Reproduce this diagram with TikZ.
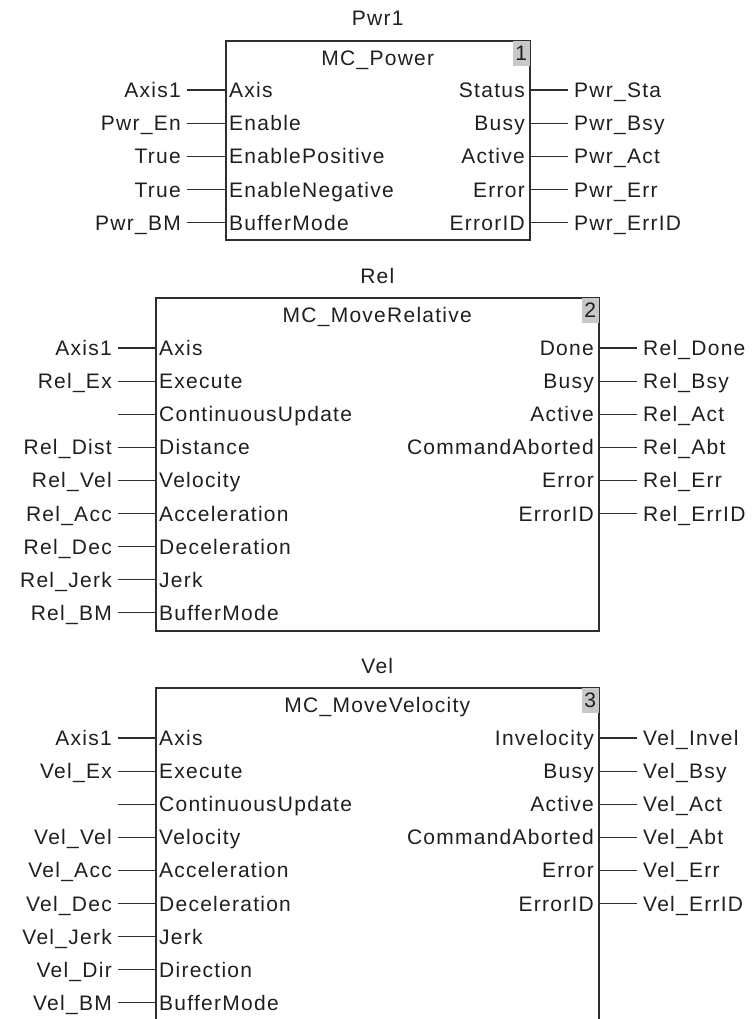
\documentclass[tikz,border=0pt]{standalone}
\usepackage{fontspec}
\setmainfont{Liberation Sans}[LetterSpace=6]
\usetikzlibrary{positioning}
\definecolor{fbline}{RGB}{50,44,44}
\definecolor{fbtext}{RGB}{35,30,30}
\definecolor{fbno}{RGB}{200,200,200}

\begin{document}
\begin{tikzpicture}[x=1pt,y=-1pt,font=\fontsize{21}{25}\selectfont,text=fbtext,
  fb/.style={draw=fbline,line width=1.6pt,anchor=north west,inner sep=0pt},
  fbno/.style={fill=fbno,anchor=north east,inner sep=0pt,minimum width=17pt,minimum height=25pt,xshift=-0.8pt,yshift=-0.8pt},
  pin/.style={inner xsep=4pt,inner ysep=0pt,text height=15pt,text depth=0pt},
  var/.style={pin,inner xsep=6pt},
  wire/.style={draw=fbline,line width=1.2pt}]
  \useasboundingbox (0,0) rectangle (752,1019);
  \clip (0,0) rectangle (752,1019);

  \node[fb,minimum width=304pt,minimum height=199pt] (pwr) at (225,40) {};
  \node[fbno] (pwrno) at (pwr.north east) {1};
  \node[pin,above=14pt of pwr] (pwrinst) {Pwr1};
  \node[pin,below=10pt of pwr.north] (pwrtitle) {MC\_Power};
  \foreach \pin/\var [count=\i] in {Axis/Axis1,Enable/Pwr\_En,EnablePositive/True,
      EnableNegative/True,BufferMode/Pwr\_BM}{
    \node[pin,anchor=west] (pwri\i) at (225,{90+(\i-1)*33.2}) {\pin};
    \node[var,left=38pt of pwri\i] (pwrv\i) {\var};
    \draw[wire] (pwrv\i.east) -- (pwri\i.west);
  }
  \foreach \pin/\var [count=\i] in {Status/Pwr\_Sta,Busy/Pwr\_Bsy,Active/Pwr\_Act,
      Error/Pwr\_Err,ErrorID/Pwr\_ErrID}{
    \node[pin,anchor=east] (pwro\i) at (529,{90+(\i-1)*33.2}) {\pin};
    \node[var,right=39pt of pwro\i] (pwrq\i) {\var};
    \draw[wire] (pwro\i.east) -- (pwrq\i.west);
  }

  \node[fb,minimum width=443pt,minimum height=333pt] (rel) at (155,297) {};
  \node[fbno] (relno) at (rel.north east) {2};
  \node[pin,above=13pt of rel] (relinst) {Rel};
  \node[pin,below=10pt of rel.north] (reltitle) {MC\_MoveRelative};
  \foreach \pin/\var [count=\i] in {Axis/Axis1,Execute/Rel\_Ex,ContinuousUpdate/{},
      Distance/Rel\_Dist,Velocity/Rel\_Vel,Acceleration/Rel\_Acc,Deceleration/Rel\_Dec,
      Jerk/Rel\_Jerk,BufferMode/Rel\_BM}{
    \node[pin,anchor=west] (reli\i) at (155,{348+(\i-1)*33.1}) {\pin};
    \node[var,left=37pt of reli\i] (relv\i) {\var};
    \draw[wire] (relv\i.east) -- (reli\i.west);
  }
  \foreach \pin/\var [count=\i] in {Done/Rel\_Done,Busy/Rel\_Bsy,Active/Rel\_Act,
      CommandAborted/Rel\_Abt,Error/Rel\_Err,ErrorID/Rel\_ErrID}{
    \node[pin,anchor=east] (relo\i) at (598,{348+(\i-1)*33.1}) {\pin};
    \node[var,right=39pt of relo\i] (relq\i) {\var};
    \draw[wire] (relo\i.east) -- (relq\i.west);
  }

  \node[fb,minimum width=443pt,minimum height=400pt] (vel) at (155,687) {};
  \node[fbno] (velno) at (vel.north east) {3};
  \node[pin,above=13pt of vel] (velinst) {Vel};
  \node[pin,below=10pt of vel.north] (veltitle) {MC\_MoveVelocity};
  \foreach \pin/\var [count=\i] in {Axis/Axis1,Execute/Vel\_Ex,ContinuousUpdate/{},
      Velocity/Vel\_Vel,Acceleration/Vel\_Acc,Deceleration/Vel\_Dec,Jerk/Vel\_Jerk,
      Direction/Vel\_Dir,BufferMode/Vel\_BM}{
    \node[pin,anchor=west] (veli\i) at (155,{738+(\i-1)*33.1}) {\pin};
    \node[var,left=37pt of veli\i] (velv\i) {\var};
    \draw[wire] (velv\i.east) -- (veli\i.west);
  }
  \foreach \pin/\var [count=\i] in {Invelocity/Vel\_Invel,Busy/Vel\_Bsy,Active/Vel\_Act,
      CommandAborted/Vel\_Abt,Error/Vel\_Err,ErrorID/Vel\_ErrID}{
    \node[pin,anchor=east] (velo\i) at (598,{738+(\i-1)*33.1}) {\pin};
    \node[var,right=39pt of velo\i] (velq\i) {\var};
    \draw[wire] (velo\i.east) -- (velq\i.west);
  }
\end{tikzpicture}
\end{document}
